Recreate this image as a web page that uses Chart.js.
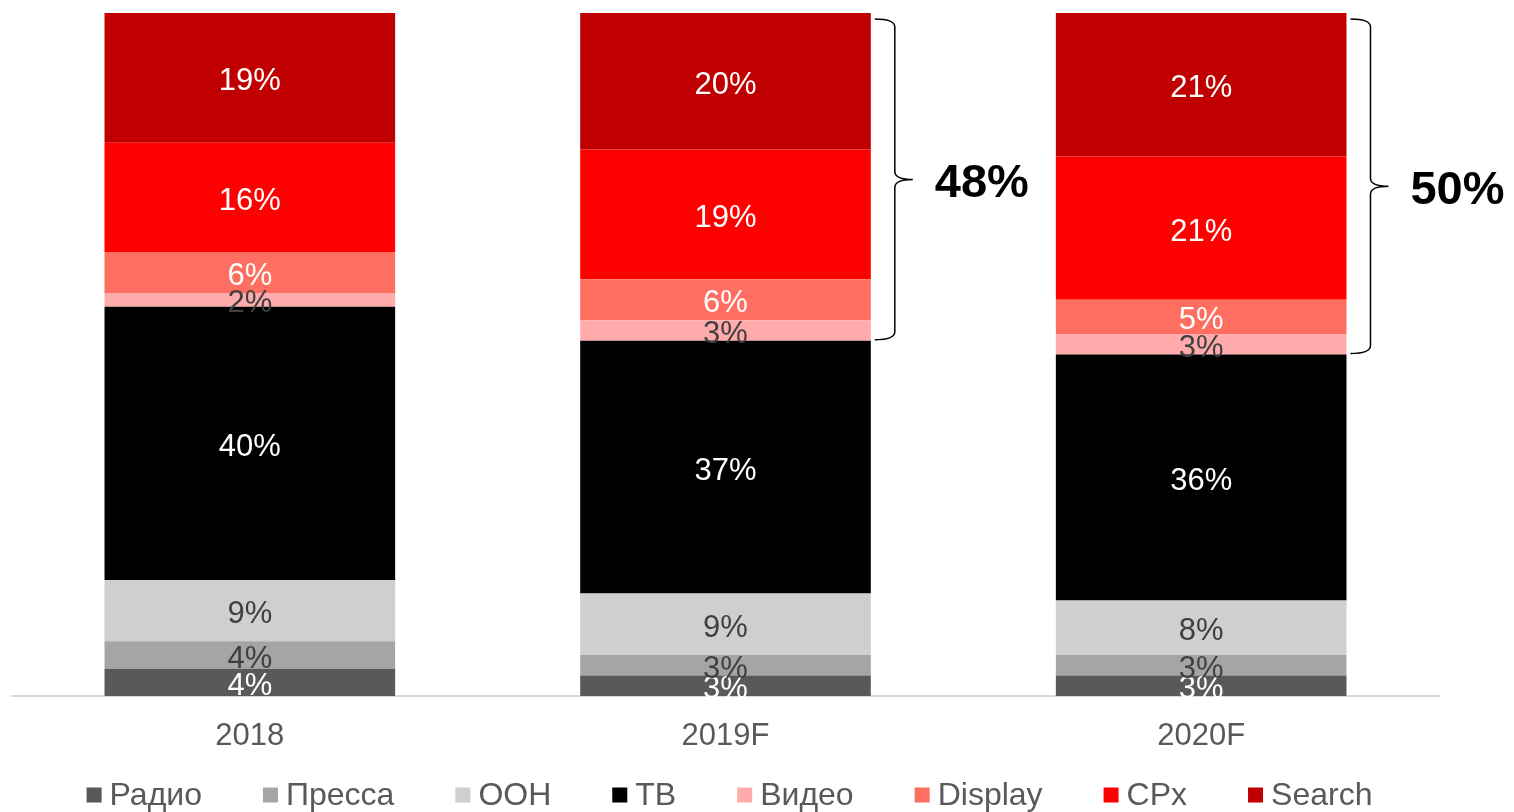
<!DOCTYPE html>
<html>
<head>
<meta charset="utf-8">
<script src="https://cdn.jsdelivr.net/npm/chart.js@4/dist/chart.umd.min.js"></script>
<style>
  html, body { margin: 0; padding: 0; background: #ffffff; }
  #wrap { width: 1514px; height: 812px; position: relative; }
</style>
</head>
<body>
<div id="wrap"><canvas id="c" width="1514" height="812"></canvas></div>
<script>
// ---- data ----
const categories = ['2018', '2019F', '2020F'];
const seriesNames = ['Радио', 'Пресса', 'OOH', 'ТВ', 'Видео', 'Display', 'CPx', 'Search'];
const radio   = [4, 3, 3];
const press   = [4, 3, 3];
const ooh     = [9, 9, 8];
const tv      = [40, 37, 36];
const video   = [2, 3, 3];
const display = [6, 6, 5];
const cpx     = [16, 19, 21];
const search  = [19, 20, 21];
const bracketCategories = [1, 2];       // categories that get a digital-share bracket
const digitalSeries = [4, 5, 6, 7];      // Видео, Display, CPx, Search

// ---- styles ----
const colors = ['#595959', '#a5a5a5', '#d0cece', '#000000', '#ffabab', '#ff6f61', '#ff0000', '#c00000'];
const labelColors = ['#ffffff', '#404040', '#404040', '#ffffff', '#404040', '#ffffff', '#ffffff', '#ffffff'];
const FONT = '"Liberation Sans", Arial, sans-serif';
const values = [radio, press, ooh, tv, video, display, cpx, search];

const datasets = seriesNames.map((name, i) => ({
  label: name,
  data: values[i],
  backgroundColor: colors[i],
  borderWidth: 0,
  categoryPercentage: 1.0,
  barPercentage: 0.611
}));

const segmentLabels = {
  id: 'segmentLabels',
  afterDatasetsDraw(chart) {
    const ctx = chart.ctx;
    ctx.save();
    ctx.font = '31px ' + FONT;
    ctx.textAlign = 'center';
    ctx.textBaseline = 'middle';
    chart.data.datasets.forEach((ds, di) => {
      const meta = chart.getDatasetMeta(di);
      meta.data.forEach((el, j) => {
        ctx.fillStyle = labelColors[di];
        ctx.fillText(ds.data[j] + '%', el.x, (el.y + el.base) / 2 + 4);
      });
    });
    ctx.restore();
  }
};

const brackets = {
  id: 'brackets',
  afterDraw(chart) {
    const ctx = chart.ctx;
    const y = chart.scales.y;
    ctx.save();
    bracketCategories.forEach(ci => {
      const el = chart.getDatasetMeta(7).data[ci];
      const right = el.x + el.width / 2;
      let below = 0, digital = 0;
      for (let s = 0; s < values.length; s++) {
        if (digitalSeries.includes(s)) digital += values[s][ci]; else below += values[s][ci];
      }
      const yT = y.getPixelForValue(below + digital) + 6;
      const yB = y.getPixelForValue(below) - 1;
      const yM = (yT + yB) / 2;
      const x0 = right + 4, x1 = right + 24, x2 = right + 42, r = 8;
      ctx.beginPath();
      ctx.moveTo(x0, yT);
      ctx.quadraticCurveTo(x1, yT, x1, yT + r);
      ctx.lineTo(x1, yM - r);
      ctx.quadraticCurveTo(x1, yM, x2, yM);
      ctx.quadraticCurveTo(x1, yM, x1, yM + r);
      ctx.lineTo(x1, yB - r);
      ctx.quadraticCurveTo(x1, yB, x0, yB);
      ctx.strokeStyle = '#000000';
      ctx.lineWidth = 1.5;
      ctx.stroke();
      ctx.fillStyle = '#000000';
      ctx.font = 'bold 47px ' + FONT;
      ctx.textAlign = 'left';
      ctx.textBaseline = 'middle';
      ctx.fillText(digital + '%', x2 + 22, yM + 5);
    });
    ctx.restore();
  }
};

// legend drawn on the canvas below the axis
const bottomLegend = {
  id: 'bottomLegend',
  afterDraw(chart) {
    const ctx = chart.ctx;
    const box = 15, gapText = 8, gapItem = 61, cy = 795;
    ctx.save();
    ctx.font = '32px ' + FONT;
    ctx.textBaseline = 'middle';
    ctx.textAlign = 'left';
    const widths = seriesNames.map(n => ctx.measureText(n).width);
    let total = 0;
    widths.forEach((w, i) => { total += box + gapText + w + (i < widths.length - 1 ? gapItem : 0); });
    const area = chart.chartArea;
    let x = (area.left + area.right) / 2 + 4 - total / 2;
    seriesNames.forEach((n, i) => {
      ctx.fillStyle = colors[i];
      ctx.fillRect(x, cy - box / 2, box, box);
      ctx.fillStyle = '#595959';
      ctx.fillText(n, x + box + gapText, cy + 1);
      x += box + gapText + widths[i] + gapItem;
    });
    ctx.restore();
  }
};

new Chart(document.getElementById('c'), {
  type: 'bar',
  data: { labels: categories, datasets },
  options: {
    responsive: false,
    animation: false,
    devicePixelRatio: 1,
    layout: { padding: { left: 12, right: 75, top: 13, bottom: 56 } },
    plugins: {
      legend: { display: false },
      tooltip: { enabled: false }
    },
    scales: {
      x: {
        stacked: true,
        grid: { display: true, drawOnChartArea: false, drawTicks: false },
        border: { display: true, color: '#d9d9d9', width: 2 },
        ticks: { color: '#595959', font: { family: FONT, size: 31 }, padding: 22 },
        afterFit: (axis) => { axis.height = 60; }
      },
      y: {
        stacked: true,
        display: false,
        min: 0,
        max: 100
      }
    }
  },
  plugins: [segmentLabels, brackets, bottomLegend]
});
</script>
</body>
</html>
